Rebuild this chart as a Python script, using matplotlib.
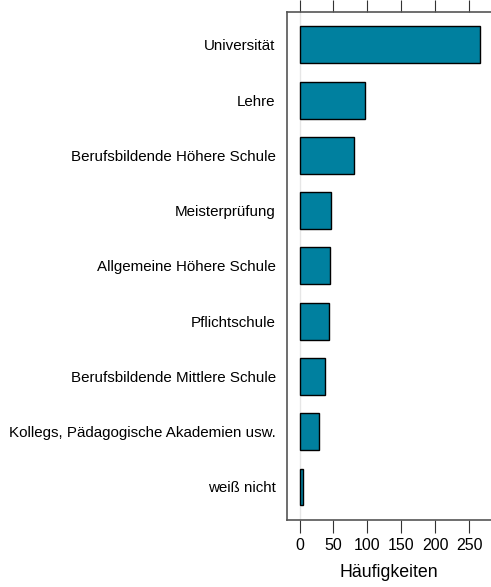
import matplotlib.pyplot as plt
import numpy as np

plt.rcParams['font.family'] = ['Liberation Sans', 'DejaVu Sans']

kategorien = ['Universität', 'Lehre', 'Berufsbildende Höhere Schule', 'Meisterprüfung',
              'Allgemeine Höhere Schule', 'Pflichtschule', 'Berufsbildende Mittlere Schule',
              'Kollegs, Pädagogische Akademien usw.', 'weiß nicht']
haeufigkeiten = [266, 96, 80, 46, 45, 43, 37, 28, 5]
xticks = [0, 50, 100, 150, 200, 250]

fig = plt.figure(figsize=(4.91, 5.87), dpi=100)
ax = fig.add_axes([0.584, 0.114, 0.416, 0.866])

pos = np.arange(len(kategorien), 0, -1)
ax.axvline(0, color='#e6e6e6', lw=1, zorder=0)
ax.barh(pos, haeufigkeiten, height=2/3, color='#00809f', edgecolor='black', lw=1, zorder=2)

ax.set_xlim(-18.8, 282)
ax.set_ylim(0.4, len(kategorien) + 0.6)
ax.set_yticks(pos)
ax.set_yticklabels(kategorien, fontsize=10.9)
ax.tick_params(axis='y', length=0, pad=8)
ax.set_xticks(xticks)
ax.tick_params(axis='x', top=True, labeltop=False, length=9, width=0.8, color='#333333', labelsize=11.5, pad=4)
ax.set_xlabel('Häufigkeiten', fontsize=12.8, labelpad=8)
for s in ax.spines.values():
    s.set_color('#555555')
    s.set_linewidth(1.2)
ax.spines['right'].set_visible(False)

fig.savefig('out.png', dpi=100)
